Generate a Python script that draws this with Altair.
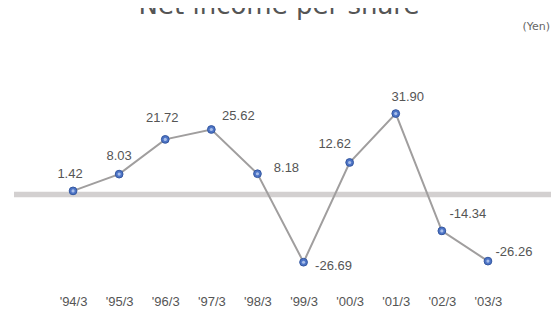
import altair as alt
import pandas as pd

years = ["'94/3", "'95/3", "'96/3", "'97/3", "'98/3", "'99/3", "'00/3", "'01/3", "'02/3", "'03/3"]
eps = [1.42, 8.03, 21.72, 25.62, 8.18, -26.69, 12.62, 31.90, -14.34, -26.26]
labels = ["1.42", "8.03", "21.72", "25.62", "8.18", "-26.69", "12.62", "31.90", "-14.34", "-26.26"]

df = pd.DataFrame({"year": years, "eps": eps, "label": labels})

# label placement (dx, dy) per point
label_offsets = [(-3, -17), (0, -18), (-3, -21), (27, -13), (29, -6),
                 (30, 4), (-15, -18), (12, -17), (26, -17), (26, -9)]

W, H = 461, 199
YDOM = [-38.43, 40]

x_enc = alt.X("year:O", sort=years, scale=alt.Scale(type="point", padding=0.5),
              axis=alt.Axis(title=None, labelAngle=0, domain=False, ticks=False,
                            labelFont="Liberation Sans", labelFontSize=13,
                            labelColor="#555555", labelPadding=3, grid=False))
y_scale = alt.Scale(domain=YDOM, nice=False, zero=False)
y_enc = alt.Y("eps:Q", scale=y_scale, axis=None)

base = alt.Chart(df)

zero = alt.Chart(pd.DataFrame({"v": [0]})).mark_rule(
    color="#d3d0d0", strokeWidth=5.5
).encode(y=alt.Y("v:Q", scale=y_scale, axis=None),
         x=alt.value(-36), x2=alt.value(W + 60))

line = base.mark_line(color="#a09e9e", strokeWidth=2).encode(x=x_enc, y=y_enc)

pts = base.mark_point(filled=True, fill="#4d74c6", stroke="#34579f",
                      strokeWidth=1, size=60, opacity=1).encode(x=x_enc, y=y_enc)
hl = base.mark_point(filled=True, fill="#a9bfea", size=10, opacity=1,
                     strokeWidth=0).encode(x=x_enc, y=y_enc)

texts = []
for yr, (dx, dy) in zip(years, label_offsets):
    texts.append(
        base.transform_filter(alt.datum.year == yr).mark_text(
            font="Liberation Sans", fontSize=13, color="#555555",
            dx=dx, dy=dy, align="center", baseline="middle"
        ).encode(x=x_enc, y=y_enc, text="label:N")
    )

unit = alt.Chart(pd.DataFrame({"t": ["(Yen)"]})).mark_text(
    font="DejaVu Sans", fontSize=11, color="#666666", align="right", baseline="alphabetic"
).encode(text="t:N", x=alt.value(W + 39), y=alt.value(-63))

title = alt.Chart(pd.DataFrame({"t": ["Net income per share"]})).mark_text(
    font="DejaVu Sans", fontSize=26, color="#555555", align="center", baseline="alphabetic"
).encode(text="t:N", x=alt.value(229), y=alt.value(-79))

chart = alt.layer(zero, line, pts, hl, *texts, unit, title).properties(
    width=W, height=H,
    padding={"left": 42, "top": 85, "right": 40, "bottom": 18},
    autosize=alt.AutoSizeParams(type="none"),
).configure_view(stroke=None)

chart.save("out.html", embed_options={"renderer": "svg", "actions": False})
